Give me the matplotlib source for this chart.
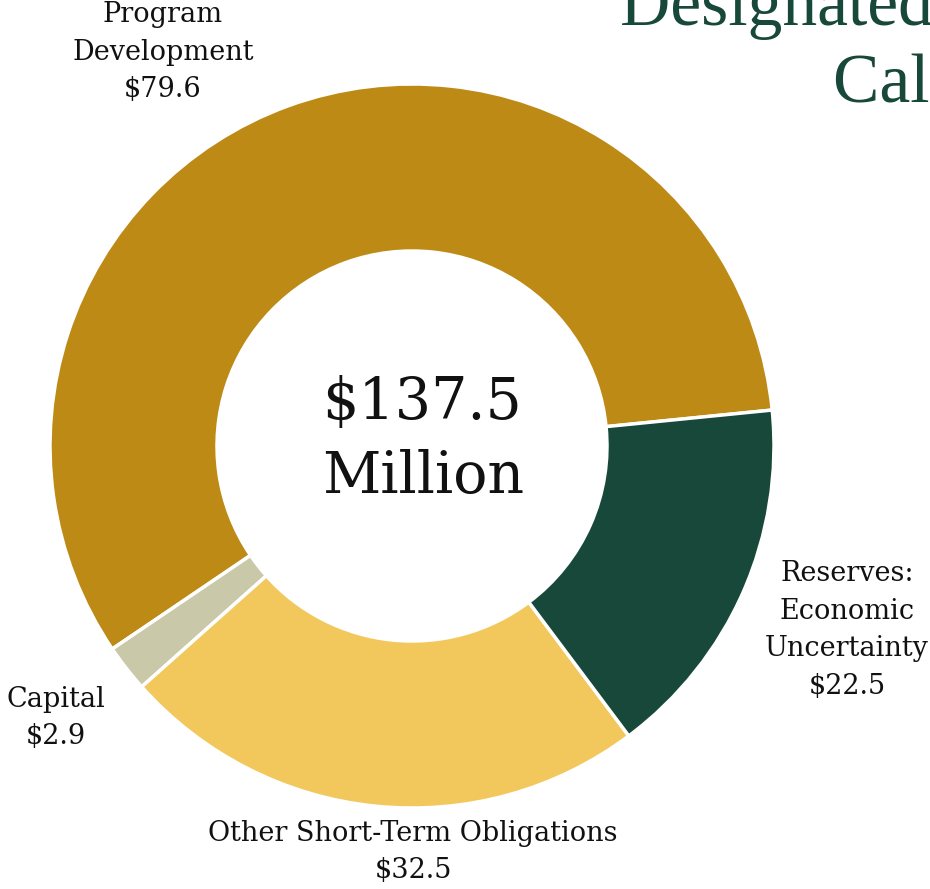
import matplotlib
matplotlib.use("Agg")
import matplotlib.pyplot as plt

categories = ["Program Development", "Capital", "Other Short-Term Obligations", "Reserves: Economic Uncertainty"]
values = [79.6, 2.9, 32.5, 22.5]
colors = ["#BD8A16", "#C9C8A8", "#F2C75C", "#17483A"]
total_label = "$137.5\nMillion"
label_texts = ["Program\nDevelopment\n$79.6", "Capital\n$2.9",
               "Other Short-Term Obligations\n$32.5", "Reserves:\nEconomic\nUncertainty\n$22.5"]

W, H = 930, 889
fig = plt.figure(figsize=(W / 100, H / 100), dpi=100)
ax = fig.add_axes([0, 0, 1, 1])

cx, cy = 412, H - 446
R = 362
ax.pie(values, colors=colors, startangle=5.7, counterclock=True,
       center=(cx, cy), radius=R, frame=True,
       wedgeprops=dict(width=167, edgecolor="white", linewidth=2.5))
ax.set_xlim(0, W)
ax.set_ylim(0, H)
ax.set_aspect("equal")
ax.axis("off")

serif = ["DejaVu Serif"]
lab_pos = [(163, H - 52), (56, H - 718), (413, H - 852), (847, H - 630)]
for t, (x, y) in zip(label_texts, lab_pos):
    ax.text(x, y, t, ha="center", va="center", fontsize=19.5, family=serif,
            color="#111111", linespacing=1.5)

ax.text(423, H - 440, total_label, ha="center", va="center", multialignment="left",
        fontsize=41, family=serif, color="#111111", linespacing=1.4)

fig.text(620, H - 25, "Designated Reserves", transform=None, fontsize=50,
         family=["Liberation Serif"], color="#17483A", ha="left", va="baseline")
fig.text(833, H - 102, "Calendar Year", transform=None, fontsize=50,
         family=["Liberation Serif"], color="#17483A", ha="left", va="baseline")

fig.savefig("out.png", dpi=100)
